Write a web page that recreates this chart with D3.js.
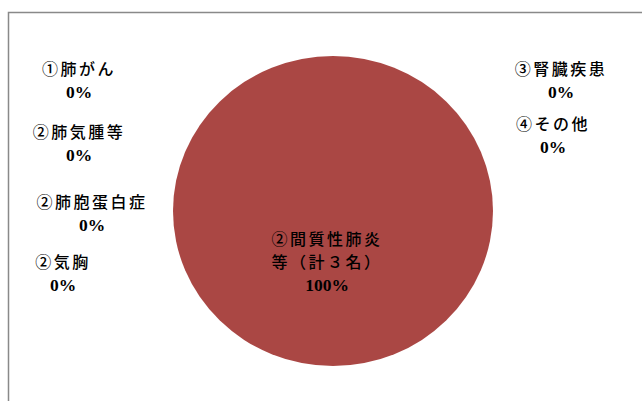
<!DOCTYPE html>
<html>
<head>
<meta charset="utf-8">
<script src="https://cdn.jsdelivr.net/npm/d3@7"></script>
<style>
  html, body { margin: 0; padding: 0; background: #fff; }
  svg text { font-family: "Liberation Serif", "Noto Sans CJK JP", serif; fill: #000; }
</style>
</head>
<body>
<svg id="chart" width="642" height="401"></svg>
<script>
// Causes of death among cases (3 persons in total)
const categories = [
  "①肺がん",
  "②肺気腫等",
  "②肺胞蛋白症",
  "②気胸",
  "②間質性肺炎等（計３名）",
  "③腎臓疾患",
  "④その他"
];
const values = [0, 0, 0, 0, 3, 0, 0];

// Category names broken into label lines
const labelLines = {
  "②間質性肺炎等（計３名）": ["②間質性肺炎", "等（計３名）"]
};

// Where each data label sits (centre of its first line)
const labelAnchor = {
  "①肺がん": [79, 69],
  "②肺気腫等": [79, 132],
  "②肺胞蛋白症": [92, 202],
  "②気胸": [63, 262],
  "②間質性肺炎等（計３名）": [327, 239],
  "③腎臓疾患": [561, 69],
  "④その他": [553, 124]
};

const svg = d3.select("#chart");
const W = 642, H = 401;

// chart area frame
svg.append("rect")
  .attr("x", 8.5).attr("y", 12.5)
  .attr("width", W).attr("height", H)
  .attr("fill", "#fff")
  .attr("stroke", "#898989")
  .attr("stroke-width", 1.5);

const total = d3.sum(values);
const data = categories.map((c, i) => ({ category: c, value: values[i] }));

const pie = d3.pie().sort(null).value(d => d.value);
const arcs = pie(data);

const cx = 333, cy = 211, rx = 160, ry = 155;
const arc = d3.arc().innerRadius(0).outerRadius(rx);

const g = svg.append("g")
  .attr("transform", `translate(${cx},${cy}) scale(1,${ry / rx})`);

g.selectAll("path")
  .data(arcs.filter(a => a.value > 0))
  .join("path")
  .attr("d", arc)
  .attr("fill", "#AA4744");

const pct = d3.format(".0%");
const lineH = 23;

const labels = svg.append("g").selectAll("text")
  .data(data)
  .join("text")
  .attr("text-anchor", "middle")
  .attr("x", d => labelAnchor[d.category][0])
  .attr("y", d => labelAnchor[d.category][1]);

labels.each(function(d) {
  const t = d3.select(this);
  const names = labelLines[d.category] || [d.category];
  const [x, y] = labelAnchor[d.category];
  names.forEach((ln, i) => {
    t.append("tspan")
      .attr("x", x)
      .attr("y", y + i * lineH)
      .attr("dy", "0.36em")
      .attr("font-size", 16)
      .attr("font-weight", 500)
      .attr("letter-spacing", 2.5)
      .text(ln);
  });
  t.append("tspan")
    .attr("x", x)
    .attr("y", y + names.length * lineH)
    .attr("dy", "0.36em")
    .attr("font-size", 17.5)
    .attr("font-weight", "bold")
    .text(pct(total ? d.value / total : 0));
});
</script>
</body>
</html>
